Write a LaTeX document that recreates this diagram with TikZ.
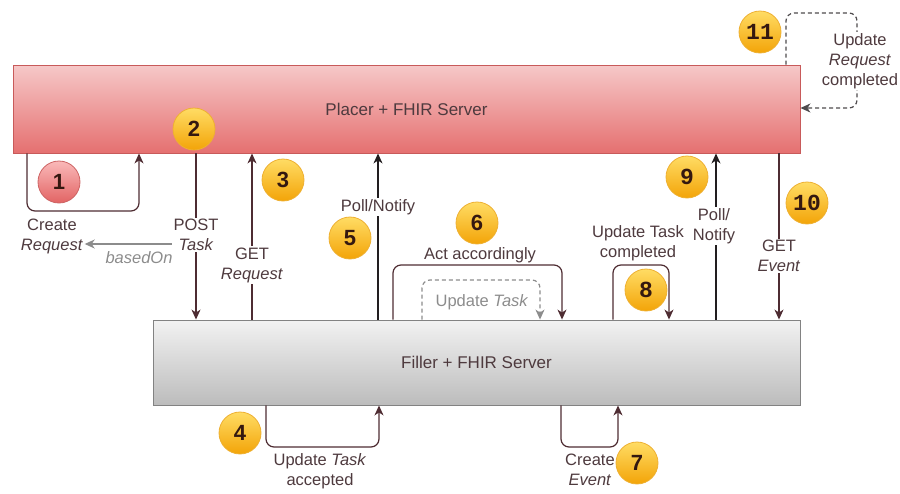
\documentclass[tikz,border=0pt]{standalone}
\usepackage{fontspec}
\setmainfont{Liberation Sans}
\newfontfamily\badgemono{Liberation Mono}
\usetikzlibrary{arrows.meta}

\definecolor{txt}{RGB}{78,58,62}
\definecolor{wire}{RGB}{78,44,50}
\definecolor{wiredark}{RGB}{34,30,32}
\definecolor{soft}{RGB}{140,140,140}
\definecolor{placertop}{RGB}{246,200,200}
\definecolor{placerbot}{RGB}{229,112,112}
\definecolor{placerline}{RGB}{200,90,90}
\definecolor{fillertop}{RGB}{242,242,242}
\definecolor{fillerbot}{RGB}{188,188,188}
\definecolor{fillerline}{RGB}{130,130,130}
\definecolor{goldtop}{RGB}{255,220,100}
\definecolor{goldbot}{RGB}{243,164,8}
\definecolor{goldline}{RGB}{238,176,50}
\definecolor{goldnum}{RGB}{52,24,16}
\definecolor{redtop}{RGB}{250,185,185}
\definecolor{redbot}{RGB}{226,100,100}
\definecolor{redline}{RGB}{205,100,100}

\begin{document}
\begin{tikzpicture}[x=1pt,y=-1pt,
  server/.style={draw, line width=0.9pt, inner sep=0pt, text=txt,
    font=\fontsize{17}{20}\selectfont},
  tip/.style={-{Stealth[length=10pt,width=9pt,inset=3pt]}},
  wireline/.style={draw=wire, line width=1.2pt, rounded corners=8pt, tip},
  darkline/.style={wireline, draw=wiredark},
  softline/.style={wireline, draw=soft, dashed, dash pattern=on 4pt off 3pt},
  lbl/.style={font=\fontsize{16.5}{20}\selectfont, text=txt, align=center,
    fill=white, inner sep=1.5pt},
  badge/.style={circle, minimum size=42pt, inner sep=0pt, line width=0.8pt,
    draw=goldline, top color=goldtop, bottom color=goldbot, text=goldnum,
    font=\bfseries\fontsize{22}{22}\selectfont},
  monobadge/.style={badge, font=\badgemono\bfseries\fontsize{23}{23}\selectfont},
  redbadge/.style={badge, draw=redline, top color=redtop, bottom color=redbot}]

\useasboundingbox (0,0) rectangle (900,493);

% the two servers
\node[server, minimum width=787pt, minimum height=88pt,
  draw=placerline, top color=placertop, bottom color=placerbot]
  (placer) at (406.5,109) {Placer + FHIR Server};
\node[server, minimum width=647pt, minimum height=85pt,
  draw=fillerline, top color=fillertop, bottom color=fillerbot]
  (filler) at (476.5,362.5) {Filler + FHIR Server};

% column and corner points of the connectors
\coordinate (k1a) at (27,211);  \coordinate (k1b) at (139,211);
\coordinate (k2)  at (196,0);
\coordinate (k3)  at (252,0);
\coordinate (k5)  at (378,0);
\coordinate (k6a) at (393,265); \coordinate (k6b) at (562,265);
\coordinate (k6c) at (422,280); \coordinate (k6d) at (540,280);
\coordinate (k8a) at (613,265); \coordinate (k8b) at (669,265);
\coordinate (k9)  at (716,0);
\coordinate (k10) at (779,0);
\coordinate (k11a) at (786,13); \coordinate (k11b) at (857,13);
\coordinate (k11c) at (857,108);
\coordinate (k4a) at (266,447); \coordinate (k4b) at (379,447);
\coordinate (k7a) at (561,447); \coordinate (k7b) at (618,447);
\coordinate (bo)  at (0,244);

% connectors
\draw[wireline] (placer.south -| k1a) -- (k1a) -- (k1b) -- (placer.south -| k1b);
\draw[wireline] (placer.south -| k2) -- (filler.north -| k2);
\draw[wireline] (filler.north -| k3) -- (placer.south -| k3);
\draw[darkline] (filler.north -| k5) -- (placer.south -| k5);
\draw[wireline] (filler.north -| k6a) -- (k6a) -- (k6b) -- (filler.north -| k6b);
\draw[softline] (filler.north -| k6c) -- (k6c) -- (k6d) -- (filler.north -| k6d);
\draw[wireline] (filler.north -| k8a) -- (k8a) -- (k8b) -- (filler.north -| k8b);
\draw[darkline] (filler.north -| k9) -- (placer.south -| k9);
\draw[wireline] (placer.south -| k10) -- (filler.north -| k10);
\draw[softline, draw=wiredark!80] (placer.north -| k11a) -- (k11a) -- (k11b) -- (k11c) -- (placer.east |- k11c);
\draw[wireline] (filler.south -| k4a) -- (k4a) -- (k4b) -- (filler.south -| k4b);
\draw[wireline] (filler.south -| k7a) -- (k7a) -- (k7b) -- (filler.south -| k7b);

% labels
\node[lbl] (create)  at (52,236)  {Create\\\textit{Request}};
\node[lbl] (post)    at (196,235) {POST\\\textit{Task}};
\node[lbl] (getreq)  at (252,265) {GET\\\textit{Request}};
\node[lbl] (poll5)   at (378,207) {Poll/Notify};
\node[lbl, inner xsep=3pt] (act) at (480,255) {Act accordingly};
\node[lbl, text=soft, fill=none] (updtask) at (482,302) {Update \textit{Task}};
\node[lbl] (upd8)    at (638,243) {Update Task\\completed};
\node[lbl] (poll9)   at (714,226) {Poll/\\Notify};
\node[lbl] (getev)   at (779,256) {GET\\\textit{Event}};
\node[lbl] (upd11)   at (860,61)  {Update\\\textit{Request}\\completed};
\node[lbl] (upd4)    at (320,471) {Update \textit{Task}\\accepted};
\node[lbl] (create7) at (590,470) {Create\\\textit{Event}};

% basedOn reference
\draw[draw=soft, line width=1.2pt, tip]
  (post.west |- bo) -- (create.east |- bo);
\node[lbl, text=soft, fill=none] (basedon) at (139,258) {\textit{basedOn}};

% step numbers
\node[redbadge]  (n1)  at (59,182)  {1};
\node[badge]     (n2)  at (194,129) {2};
\node[badge]     (n3)  at (283,180) {3};
\node[badge]     (n4)  at (240,433) {4};
\node[badge]     (n5)  at (350,238) {5};
\node[badge]     (n6)  at (477,223) {6};
\node[badge]     (n7)  at (637,463) {7};
\node[monobadge] (n8)  at (646,290) {8};
\node[monobadge] (n9)  at (687,177) {9};
\node[monobadge] (n10) at (807,203) {10};
\node[monobadge] (n11) at (760,32)  {11};
\end{tikzpicture}
\end{document}
